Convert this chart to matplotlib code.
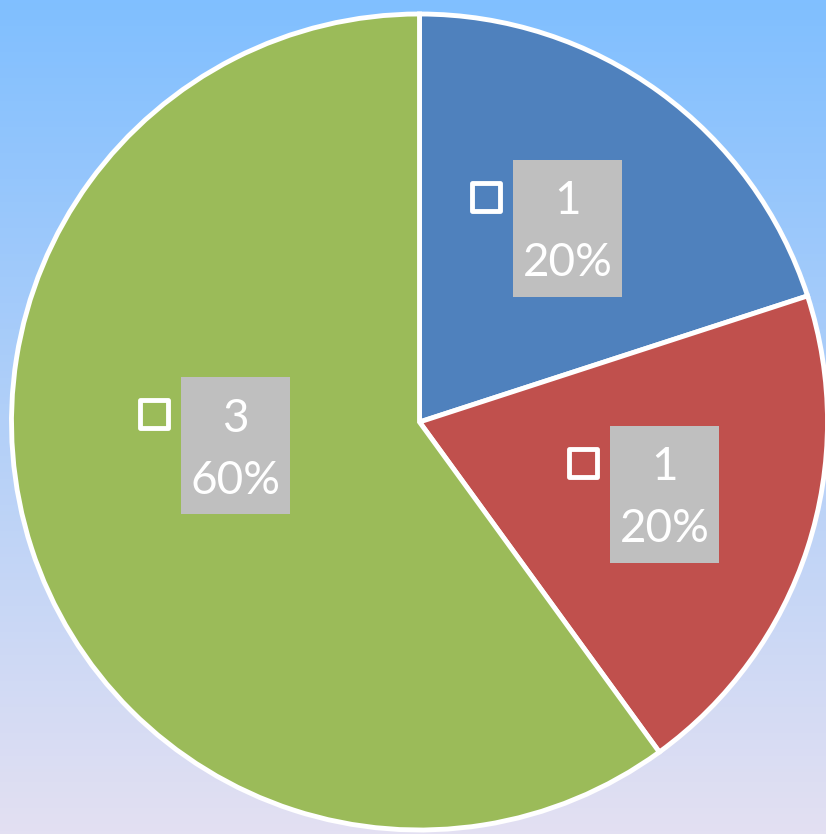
import numpy as np
import matplotlib
matplotlib.use("Agg")
import matplotlib.pyplot as plt
from matplotlib.patches import Rectangle

# data
categories = ["A", "B", "C"]
values = [1, 1, 3]
colors = ["#4F81BD", "#C0504D", "#9BBB59"]

# label anchors (fraction of radius, angle in degrees)
label_dist = [0.597, 0.626, 0.455]
label_angle = [52.6, -16.4, 187.4]

W, H = 826, 834
fig = plt.figure(figsize=(W / 100, H / 100), dpi=100)
ax = fig.add_axes([0, 0, 1, 1])

# background gradient, light blue on top to lavender at the bottom
top = np.array([128, 191, 255]) / 255
bottom = np.array([227, 224, 242]) / 255
t = np.linspace(0, 1, 256)[:, None]
grad = (top[None, :] * (1 - t) + bottom[None, :] * t)[:, None, :]
ax.imshow(grad, extent=[0, W, H, 0], aspect="auto", zorder=0)

cx, cy, r = 419.5, 422, 408
wedges, _ = ax.pie(values, colors=colors, startangle=90, counterclock=False,
                   center=(cx, cy), radius=r, frame=True,
                   wedgeprops=dict(edgecolor="white", linewidth=3.5))
# pie assumes y goes up, the axes here go down, so reflect the wedges
flip = matplotlib.transforms.Affine2D().scale(1, -1).translate(0, 2 * cy)
for w in wedges:
    w.set_zorder(1)
    w.set_transform(flip + ax.transData)
ax.set_xlim(0, W)
ax.set_ylim(H, 0)
ax.axis("off")

total = sum(values)
box_w, box_h = 109, 137
for v, d, a in zip(values, label_dist, label_angle):
    lx = cx + d * r * np.cos(np.radians(a))
    ly = cy - d * r * np.sin(np.radians(a))
    ax.add_patch(Rectangle((lx - box_w / 2, ly - box_h / 2), box_w, box_h,
                           facecolor="#BFBFBF", edgecolor="none", zorder=3))
    ax.text(lx, ly - 27, str(v), color="white", fontsize=33, family="Lato",
            ha="center", va="center", zorder=4)
    ax.text(lx, ly + 35, "{:.0%}".format(v / total), color="white", fontsize=33,
            family="Lato", ha="center", va="center", zorder=4)
    ax.add_patch(Rectangle((lx - box_w / 2 - 41, ly - box_h / 2 + 23), 28, 28,
                           facecolor="none", edgecolor="white", linewidth=3.5,
                           joinstyle="round", zorder=4))

fig.savefig("out.png", dpi=100)
